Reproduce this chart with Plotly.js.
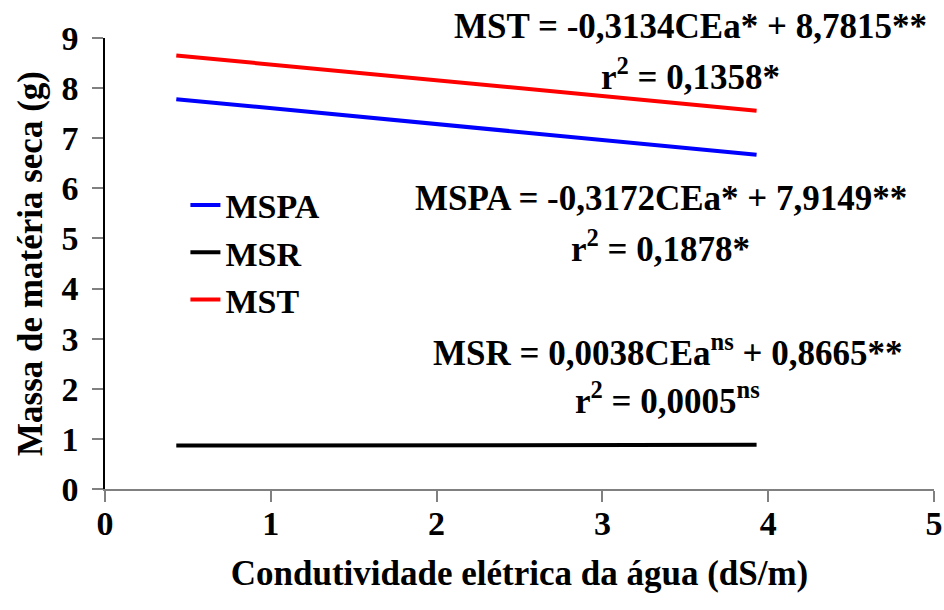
<!DOCTYPE html>
<html>
<head>
<meta charset="utf-8">
<script src="https://cdn.plot.ly/plotly-3.0.1.min.js"></script>
<style>
html,body{margin:0;padding:0;background:#fff;font-family:'Times New Roman','Liberation Serif',serif}
#chart svg text{font-family:'Times New Roman','Liberation Serif',Tinos,serif !important;font-weight:bold !important}
</style>
</head>
<body>
<div id="chart" style="width:944px;height:610px"></div>
<script>
// Data (regression line endpoints)
var ceaX = [0.43, 3.93];
var mspaY = [7.78, 6.67];
var msrY = [0.868, 0.881];
var mstY = [8.65, 7.55];
var seriesNames = ['MSPA', 'MSR', 'MST'];
var seriesColors = ['#0000ff', '#000000', '#ff0000'];
var xTicks = [0, 1, 2, 3, 4, 5];
var yTicks = [0, 1, 2, 3, 4, 5, 6, 7, 8, 9];
var eqLines = [
  {t: 'MST = -0,3134CEa* + 8,7815**', x: 691, y: 27},
  {t: 'r<sup>2</sup> = 0,1358*', x: 691, y: 74},
  {t: 'MSPA = -0,3172CEa* + 7,9149**', x: 661, y: 198},
  {t: 'r<sup>2</sup> = 0,1878*', x: 661, y: 246},
  {t: 'MSR = 0,0038CEa<sup>ns</sup> + 0,8665**', x: 668, y: 350},
  {t: 'r<sup>2</sup> = 0,0005<sup>ns</sup>', x: 668, y: 398}
];

var F = 'Times New Roman';
var ys = [mspaY, msrY, mstY];
var traces = seriesNames.map(function(n, i){
  return {x: ceaX, y: ys[i], name: '<b>' + n + '</b>', type: 'scatter', mode: 'lines',
          line: {color: seriesColors[i], width: 4}};
});
var annotations = eqLines.map(function(e){
  return {text: '<b>' + e.t + '</b>', xref: 'paper', yref: 'paper',
          x: (e.x - 105.5) / (934 - 105.5), y: (488.7 - e.y) / (488.7 - 38),
          xanchor: 'center', yanchor: 'middle', showarrow: false,
          font: {family: F, size: 35, color: '#000'}};
});
var layout = {
  width: 944, height: 610,
  font: {family: F, color: '#000'},
  margin: {l: 105, r: 10, t: 38, b: 121},
  paper_bgcolor: '#fff', plot_bgcolor: '#fff',
  showlegend: true,
  legend: {x: 0.097, y: 0.693, xanchor: 'left', yanchor: 'top',
           bgcolor: 'rgba(0,0,0,0)', font: {family: F, size: 34, color: '#000'},
           tracegroupgap: 0, itemwidth: 30},
  xaxis: {range: [0, 5], tickvals: xTicks, ticktext: xTicks.map(function(v){return '<b>' + v + '</b>';}),
          ticks: 'outside', ticklen: 11, tickcolor: '#808080', tickwidth: 1.5,
          showline: true, linecolor: '#808080', linewidth: 1.5, showgrid: false, zeroline: false,
          tickfont: {family: F, size: 34, color: '#000'}, ticklabelstandoff: -8,
          title: {text: '<b>Condutividade elétrica da água (dS/m)</b>', font: {family: F, size: 35, color: '#000'}, standoff: 20}},
  yaxis: {range: [0, 9], tickvals: yTicks, ticktext: yTicks.map(function(v){return '<b>' + v + '</b>';}),
          ticks: 'outside', ticklen: 11, tickcolor: '#808080', tickwidth: 1.5,
          showline: true, linecolor: '#000', linewidth: 1.5, showgrid: false, zeroline: false,
          tickfont: {family: F, size: 34, color: '#000'}, ticklabelstandoff: 7,
          title: {text: '<b>Massa de matéria seca (g)</b>', font: {family: F, size: 35, color: '#000'}, standoff: 8}},
  annotations: annotations
};
Plotly.newPlot('chart', traces, layout, {displayModeBar: false});
</script>
</body>
</html>
